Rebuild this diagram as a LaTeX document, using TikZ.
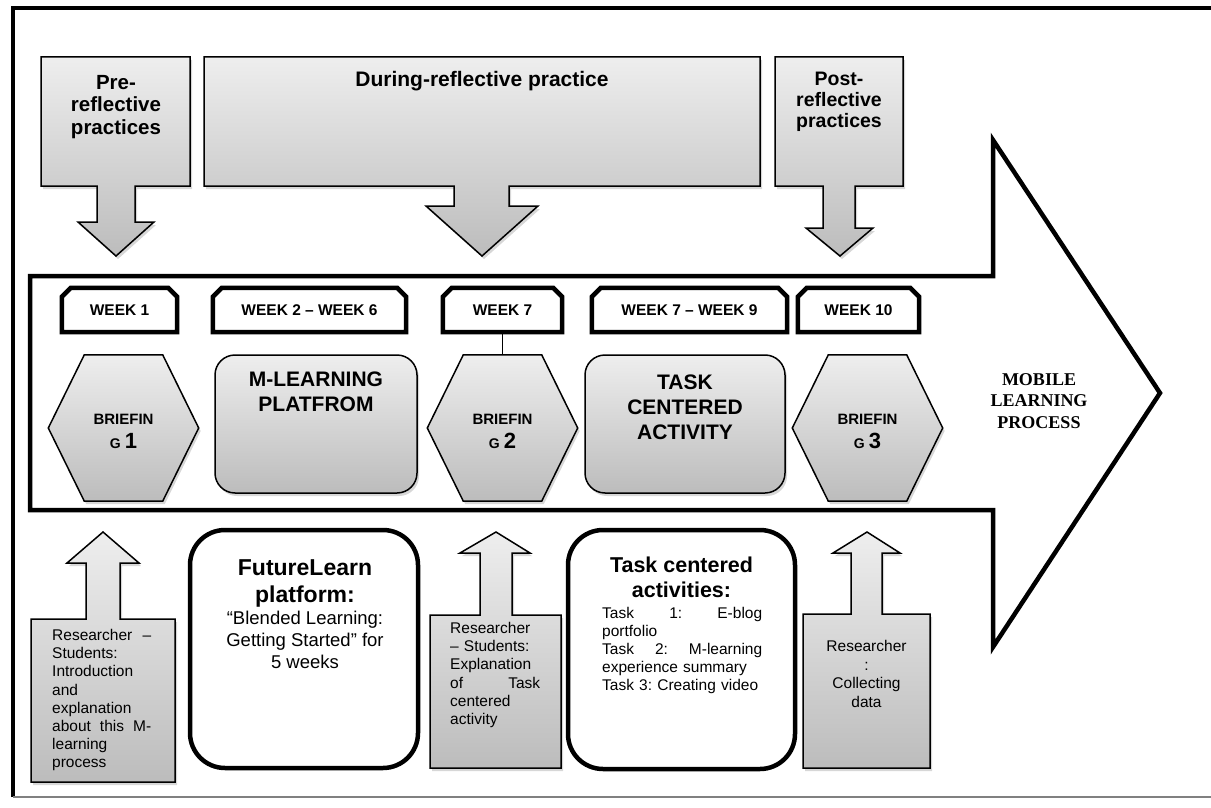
\documentclass[tikz,border=0pt]{standalone}
\usepackage{fontspec}
\setmainfont{Liberation Sans}
\newfontfamily\serifbf{Liberation Serif}
\usetikzlibrary{shadows,calc}
\frenchspacing
\definecolor{gtop}{HTML}{EEEEEE}
\definecolor{gbot}{HTML}{BCBCBC}
\definecolor{framegray}{HTML}{808080}
\tikzset{
  shadowed/.style={drop shadow={shadow xshift=2pt,shadow yshift=-3pt,opacity=0.35,fill=black!45}},
  callout/.style={top color=gtop,bottom color=gbot,draw=black,line width=1.5pt,line join=miter,shadowed},
  calltext/.style={font=\bfseries\fontsize{20.5}{22.5}\selectfont,align=center,inner sep=0pt},
  posttext/.style={font=\bfseries\fontsize{19.5}{21}\selectfont,align=center,inner sep=0pt},
  bigarrow/.style={draw=black,line width=4.5pt,line join=miter},
  weeknode/.style={inner sep=0pt,minimum height=44pt,font=\bfseries\fontsize{15.5}{17}\selectfont},
  weekline/.style={draw=black,line width=4.5pt,line join=miter},
  hexbox/.style={inner sep=0pt,minimum width=150pt,minimum height=146pt},
  hexstyle/.style={top color=gtop,bottom color=gbot,draw=black,line width=1.5pt,shadowed},
  hextext/.style={font=\bfseries\fontsize{15}{24}\selectfont,align=center,inner sep=0pt},
  graybox/.style={rounded corners=20pt,top color=gtop,bottom color=gbot,draw=black,line width=1.5pt,shadowed,inner sep=0pt},
  bigbold/.style={font=\bfseries\fontsize{21}{25}\selectfont,align=center,inner sep=0pt},
  whitebox/.style={rounded corners=35pt,draw=black,fill=white,line width=4.5pt,inner sep=0pt},
  headbold/.style={font=\bfseries\fontsize{23}{27}\selectfont,align=center,inner sep=0pt},
  bodytext/.style={font=\fontsize{18.5}{22}\selectfont,align=center,inner sep=0pt},
  smalltext/.style={font=\fontsize{15.5}{18.2}\selectfont,align=left,inner sep=0pt},
  centertext/.style={font=\fontsize{15.5}{18.7}\selectfont,align=center,inner sep=0pt},
  uparrow/.style={top color=gtop,bottom color=gbot,draw=black,line width=1.5pt,line join=miter,shadowed},
  link/.style={draw=black,line width=1.2pt},
  mobiletext/.style={font=\serifbf\bfseries\fontsize{18}{21.5}\selectfont,align=center,inner sep=0pt}
}
\newcommand\weekbox[4]{%
  \node[weeknode,minimum width={#3-#2}] (#1) at ({(#2+#3)/2},310) {#4};
  \draw[weekline] (#1.south west) -- ($(#1.north west)+(0,9)$) -- ($(#1.north west)+(9,0)$)
    -- ($(#1.north east)+(-9,0)$) -- ($(#1.north east)+(0,9)$) -- (#1.south east) -- cycle;}
\newcommand\hexshape[3]{%
  \node[hexbox] (#1) at (#2,428) {};
  \path[hexstyle] (#1.west) -- ($(#1.north west)+(36,0)$) -- ($(#1.north east)+(-36,0)$)
    -- (#1.east) -- ($(#1.south east)+(-36,0)$) -- ($(#1.south west)+(36,0)$) -- cycle;
  \node[hextext] (#1t) at (#2,431) {BRIEFIN\\{\fontsize{14}{14}\selectfont G} {\fontsize{22}{22}\selectfont #3}};}
\begin{document}
\begin{tikzpicture}[x=1pt,y=-1pt]
\useasboundingbox (0,0) rectangle (1211,808);
% frame
\draw[line width=4pt] (13,797) -- (13,8) -- (1213,8);
\draw[framegray,line width=1.5pt] (13,797) -- (1211,797);

% top callouts
\path[callout] (41,57) -- (190,57) -- (190,186) -- (135,186) -- (135,222) -- (154,222) -- (116,256)
  -- (78,222) -- (97,222) -- (97,186) -- (41,186) -- cycle;
\node[calltext] (pre) at (116,107) {Pre-\\reflective\\practices};

\path[callout] (204,57) -- (760,57) -- (760,186) -- (509,186) -- (509,206) -- (538,206) -- (482,256)
  -- (426,206) -- (454,206) -- (454,186) -- (204,186) -- cycle;
\node[calltext,font=\bfseries\fontsize{21}{24}\selectfont] (during) at (482,81) {During-reflective practice};

\path[callout] (775,57) -- (903,57) -- (903,186) -- (855,186) -- (855,228) -- (873,228) -- (840,256)
  -- (806,228) -- (823,228) -- (823,186) -- (775,186) -- cycle;
\node[posttext] (post) at (839,102) {Post-\\reflective\\practices};

% big process arrow
\draw[bigarrow] (30,276) -- (993,276) -- (993,140) -- (1160,393) -- (993,647) -- (993,510) -- (30,510) -- cycle;
\node[mobiletext] (mobile) at (1039,401) {MOBILE\\LEARNING\\PROCESS};

% week labels
\weekbox{w1}{62}{177}{WEEK 1}
\weekbox{w2}{213}{406}{WEEK 2 -- WEEK 6}
\weekbox{w7}{443}{562}{WEEK 7}
\weekbox{w79}{592}{787}{WEEK 7 -- WEEK 9}
\weekbox{w10}{798}{919}{WEEK 10}

% hexagons
\hexshape{h1}{123.5}{1}
\hexshape{h2}{502.5}{2}
\hexshape{h3}{867.5}{3}
\draw[link] (w7.south) -- (h2.north);

% gray rounded boxes
\node[graybox,minimum width=202pt,minimum height=138pt] (ml) at (316,424) {};
\node[bigbold,anchor=north] (mltext) at (316,372) {M-LEARNING\\PLATFROM};
\node[graybox,minimum width=200pt,minimum height=138pt] (tc) at (685,424) {};
\node[bigbold,anchor=north] (tctext) at (685,375) {TASK\\CENTERED\\ACTIVITY};

% up arrows
\path[uparrow] (31,619) -- (86,619) -- (86,563) -- (67,563) -- (103,532) -- (139,563) -- (120,563)
  -- (120,619) -- (175,619) -- (175,782) -- (31,782) -- cycle;
\node[smalltext,text width=99pt,anchor=north west] (a1) at (52,629)
  {Researcher\hfill --\\Students:\\Introduction\\and\\explanation\\about\hfill this\hfill M-\\learning\\process};

\path[uparrow] (430,615) -- (480,615) -- (480,553) -- (460,553) -- (496,532) -- (530,553) -- (512,553)
  -- (512,615) -- (561,615) -- (561,768) -- (430,768) -- cycle;
\node[smalltext,text width=90pt,anchor=north west] (a2) at (450,622)
  {Researcher\\-- Students:\\Explanation\\of\hfill Task\\centered\\activity};

\path[uparrow] (803,614) -- (851,614) -- (851,553) -- (833,553) -- (867,532) -- (900,553) -- (882,553)
  -- (882,614) -- (930,614) -- (930,768) -- (803,768) -- cycle;
\node[centertext,anchor=north] (a3) at (866.5,640) {Researcher\\:\\Collecting\\data};

% white rounded boxes
\node[whitebox,minimum width=228pt,minimum height=238pt] (fl) at (304,649) {};
\node[headbold,anchor=north] (flhead) at (305,559) {FutureLearn\\platform:};
\node[bodytext,anchor=north] (flbody) at (305,611) {``Blended Learning:\\Getting Started'' for\\5 weeks};

\node[whitebox,minimum width=227pt,minimum height=239pt] (tb) at (681.5,649.5) {};
\node[headbold,font=\bfseries\fontsize{21.5}{25}\selectfont,anchor=north] (tbhead) at (681.5,557) {Task centered\\activities:};
\node[smalltext,font=\fontsize{15.5}{18}\selectfont,text width=160pt,anchor=north west] (tbbody) at (602,607)
  {Task\hfill 1:\hfill E-blog\\portfolio\\Task\hfill 2:\hfill M-learning\\experience summary\\Task 3: Creating video};
\end{tikzpicture}
\end{document}
